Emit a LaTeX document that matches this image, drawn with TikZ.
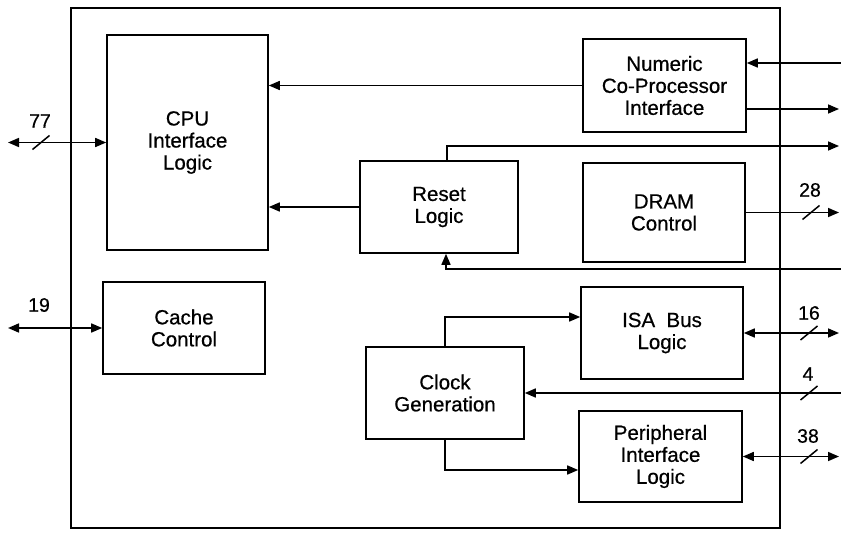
\documentclass[tikz,border=0pt]{standalone}
\usepackage{fontspec}
\setmainfont{Liberation Sans}
\newfontfamily\heavysans[FakeBold=0.6]{Liberation Sans}
\usetikzlibrary{arrows.meta}
\begin{document}
\begin{tikzpicture}[x=1pt,y=-1pt,
  blk/.style={draw,line width=1.6pt,align=center,font=\heavysans\fontsize{20.5}{22}\selectfont,inner sep=0pt},
  wire/.style={line width=1.6pt},
  arr/.style={wire,-{Triangle[length=11pt,width=9pt]}},
  barr/.style={wire,{Triangle[length=11pt,width=9pt]}-{Triangle[length=11pt,width=9pt]}},
  lbl/.style={font=\heavysans\fontsize{19.5}{19.5}\selectfont,inner sep=0pt},
  slash/.style={line width=1.5pt}]
\useasboundingbox (0,0) rectangle (841,535);
\node[draw,line width=1.6pt,minimum width=709pt,minimum height=520pt,inner sep=0pt] (chip) at (425.5,268) {};
\node[blk,minimum width=161pt,minimum height=215pt] (cpu) at (187.5,142.5) {CPU\\Interface\\Logic};
\node[blk,minimum width=163pt,minimum height=93pt] (numeric) at (664.5,85.5) {Numeric\\Co-Processor\\Interface};
\node[blk,minimum width=158pt,minimum height=92pt] (reset) at (439,207) {Reset\\Logic};
\node[blk,minimum width=162pt,minimum height=99pt] (dram) at (664,212.5) {DRAM\\Control};
\node[blk,minimum width=162pt,minimum height=92pt] (cache) at (184,328) {Cache\\Control};
\node[blk,minimum width=162pt,minimum height=92pt] (isa) at (662,333) {ISA\ \ Bus\\Logic};
\node[blk,minimum width=158pt,minimum height=92pt] (clock) at (445,393) {Clock\\Generation};
\node[blk,minimum width=163pt,minimum height=91pt] (periph) at (660.5,456.5) {Peripheral\\Interface\\Logic};

\coordinate (e77) at (8,142.5);
\draw[barr] (e77) -- (cpu.west);
\coordinate (e19) at (8,328);
\draw[barr] (e19) -- (cache.west);
\coordinate (nin) at (841,63);
\draw[arr] (nin) -- (nin -| numeric.east);
\coordinate (nout) at (839,109);
\draw[arr] (nout -| numeric.east) -- (nout);
\draw[arr] (numeric.west) -- (numeric.west -| cpu.east);
\draw[arr] (reset.west) -- (reset.west -| cpu.east);
\coordinate (rout) at (839,146);
\draw[arr] ([xshift=8pt]reset.north) |- (rout);
\coordinate (rin) at (841,269);
\draw[arr] (rin) -| ([xshift=7pt]reset.south);
\coordinate (dout) at (839,212.5);
\draw[arr] (dram.east) -- (dout);
\coordinate (isaio) at (839,333);
\draw[barr] (isa.east) -- (isaio);
\coordinate (cin) at (841,393);
\draw[arr] (cin) -- (clock.east);
\coordinate (pio) at (839,456.5);
\draw[barr] (periph.east) -- (pio);
\draw[arr] (clock.north) |- ([yshift=16pt]isa.west);
\draw[arr] (clock.south) |- ([yshift=-13.5pt]periph.west);

% bus width marks
\draw[slash] (41,142.5) ++(-8.5,7) -- ++(17,-14);
\draw[slash] (811,212.5) ++(-8.5,7) -- ++(17,-14);
\draw[slash] (809,333) ++(-8.5,7) -- ++(17,-14);
\draw[slash] (809,393) ++(-8.5,7) -- ++(17,-14);
\draw[slash] (809,456.5) ++(-8.5,7) -- ++(17,-14);

\node[lbl] (l77) at (40,121) {77};
\node[lbl] (l19) at (39,305) {19};
\node[lbl] (l28) at (810,190) {28};
\node[lbl] (l16) at (809,313) {16};
\node[lbl] (l4) at (808,374) {4};
\node[lbl] (l38) at (808,436) {38};
\end{tikzpicture}
\end{document}
